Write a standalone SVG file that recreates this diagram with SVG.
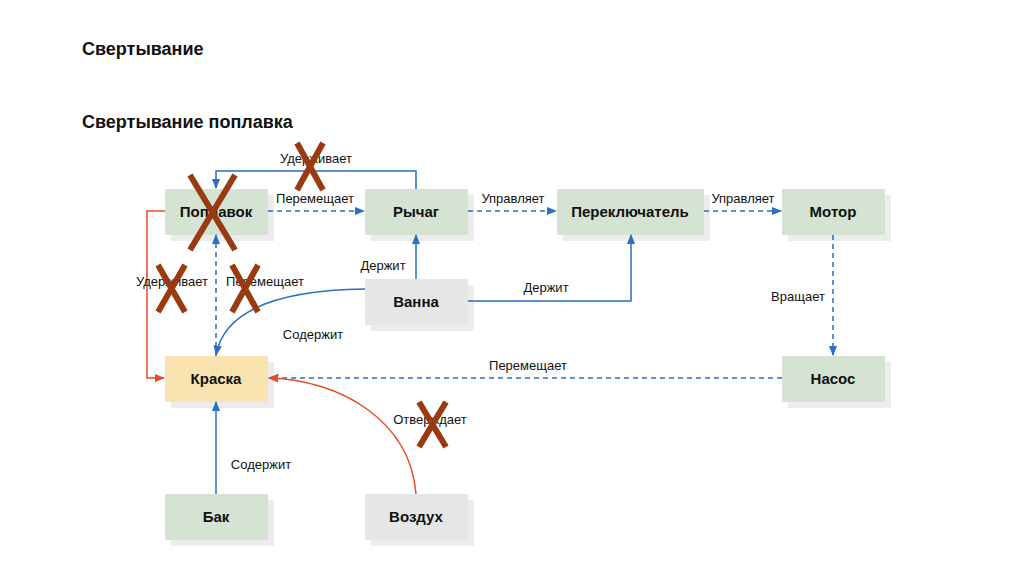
<svg xmlns="http://www.w3.org/2000/svg" width="1024" height="574" viewBox="0 0 1024 574">
<style>
text{font-family:"Liberation Sans",Arial,sans-serif;fill:#111}
.t{font-size:18px;font-weight:bold}
.n{font-size:15px;font-weight:bold;text-anchor:middle}
.l{font-size:13px;text-anchor:middle}
.sh{fill:#ececec}
.g{fill:#d5e3d3}.y{fill:#f9e3b0}.gr{fill:#e6e6e6}
.b{stroke:#2a6fc0;stroke-width:1.5;fill:none}
.d{stroke-dasharray:5,4}
.r{stroke:#e84a2a;stroke-width:1.5;fill:none}
.x{stroke:#9a3a10;stroke-width:6;stroke-linecap:butt}
</style>
<defs>
<marker id="ab" viewBox="0 0 10 10" refX="9" refY="5" markerWidth="7" markerHeight="7" orient="auto"><path d="M0,1L10,5L0,9z" fill="#2a6fc0"/></marker>
<marker id="ar" viewBox="0 0 10 10" refX="9" refY="5" markerWidth="7" markerHeight="7" orient="auto"><path d="M0,1L10,5L0,9z" fill="#e84a2a"/></marker>
</defs>
<rect width="1024" height="574" fill="#fff"/>
<text class="t" x="82" y="55">Свертывание</text>
<text class="t" x="82" y="128">Свертывание поплавка</text>
<g id="n-poplavok"><rect class="sh" x="171" y="195" width="103" height="46"/><rect class="g" x="165" y="189" width="103" height="46"/><text class="n" x="216" y="217">Поплавок</text></g>
<g id="n-rychag"><rect class="sh" x="371" y="195" width="103" height="46"/><rect class="g" x="365" y="189" width="103" height="46"/><text class="n" x="416" y="217">Рычаг</text></g>
<g id="n-perekl"><rect class="sh" x="563" y="195" width="147" height="46"/><rect class="g" x="557" y="189" width="147" height="46"/><text class="n" x="630" y="217">Переключатель</text></g>
<g id="n-motor"><rect class="sh" x="788" y="195" width="103" height="46"/><rect class="g" x="782" y="189" width="103" height="46"/><text class="n" x="833" y="217">Мотор</text></g>
<g id="n-vanna"><rect class="sh" x="371" y="285" width="103" height="46"/><rect class="gr" x="365" y="279" width="103" height="46"/><text class="n" x="416" y="307">Ванна</text></g>
<g id="n-kraska"><rect class="sh" x="171" y="362" width="103" height="46"/><rect class="y" x="165" y="356" width="103" height="46"/><text class="n" x="216" y="384">Краска</text></g>
<g id="n-nasos"><rect class="sh" x="788" y="362" width="103" height="46"/><rect class="g" x="782" y="356" width="103" height="46"/><text class="n" x="833" y="384">Насос</text></g>
<g id="n-bak"><rect class="sh" x="171" y="500" width="103" height="46"/><rect class="g" x="165" y="494" width="103" height="46"/><text class="n" x="216" y="522">Бак</text></g>
<g id="n-vozduh"><rect class="sh" x="371" y="500" width="103" height="46"/><rect class="gr" x="365" y="494" width="103" height="46"/><text class="n" x="416" y="522">Воздух</text></g>
<g id="connectors">
<path class="b" d="M416,189V171H216V188" marker-end="url(#ab)"/>
<path class="b d" d="M268,211H364" marker-end="url(#ab)"/>
<path class="b d" d="M468,211H556" marker-end="url(#ab)"/>
<path class="b d" d="M704,211H781" marker-end="url(#ab)"/>
<path class="b d" d="M833,235V355" marker-end="url(#ab)"/>
<path class="b d" d="M782,378H269" marker-end="url(#ab)"/>
<path class="b" d="M416,279V235" marker-end="url(#ab)"/>
<path class="b" d="M468,301H631V235" marker-end="url(#ab)"/>
<path class="b" d="M365,289C290,290 225,305 216,355" marker-end="url(#ab)"/>
<path class="b d" d="M216,356V235" marker-end="url(#ab)"/>
<path class="b" d="M216,494V402" marker-end="url(#ab)"/>
<path class="r" d="M165,211H147V378H164" marker-end="url(#ar)"/>
<path class="r" d="M416,494C410,420 340,380 269,378" marker-end="url(#ar)"/>
</g>
<g id="labels">
<text class="l" x="316" y="163">Удерживает</text>
<text class="l" x="315" y="203">Перемещает</text>
<text class="l" x="513" y="203">Управляет</text>
<text class="l" x="743" y="203">Управляет</text>
<text class="l" x="798" y="301">Вращает</text>
<text class="l" x="528" y="370">Перемещает</text>
<text class="l" x="383" y="270">Держит</text>
<text class="l" x="546" y="292">Держит</text>
<text class="l" x="313" y="339">Содержит</text>
<text class="l" x="172" y="286">Удерживает</text>
<text class="l" x="265" y="286">Перемещает</text>
<text class="l" x="261" y="469">Содержит</text>
<text class="l" x="430" y="424">Отверждает</text>
</g>
<g id="crosses">
<path class="x" d="M190,175L235,250M235,175L190,250"/>
<path class="x" d="M297,143L323,190M323,143L297,190"/>
<path class="x" d="M158,265L185,312M185,265L158,312"/>
<path class="x" d="M232,265L258,312M258,265L232,312"/>
<path class="x" d="M419,402L446,447M446,402L419,447"/>
</g>
</svg>
